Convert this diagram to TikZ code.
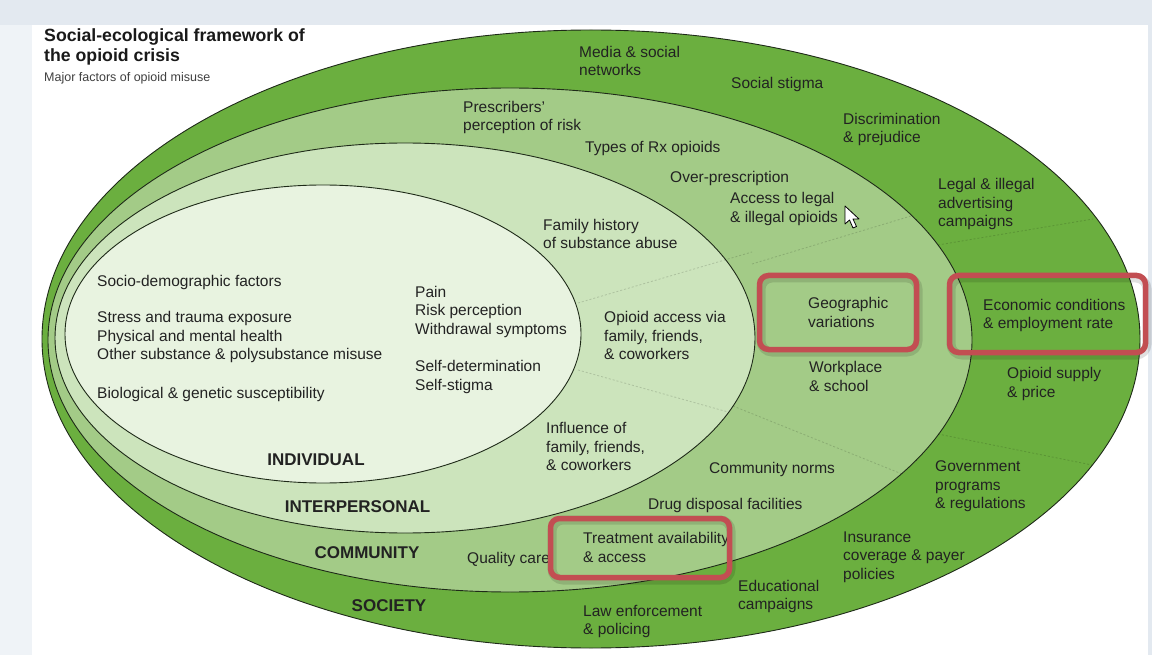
\documentclass[tikz,border=0pt]{standalone}
\usepackage{fontspec}
\setmainfont{Liberation Sans}
\definecolor{framebg}{HTML}{E3E9F0}
\definecolor{leftbg}{HTML}{EFF3F7}
\definecolor{society}{HTML}{6BAF3F}
\definecolor{community}{HTML}{A3CB87}
\definecolor{interp}{HTML}{CCE4BC}
\definecolor{indiv}{HTML}{E8F3E0}
\definecolor{ringline}{HTML}{1E2A18}
\definecolor{txt}{HTML}{222222}
\definecolor{hlred}{HTML}{C24E52}
\begin{document}
\begin{tikzpicture}[x=1pt,y=-1pt,
  lbl/.style={anchor=west, inner sep=0pt, align=left, text=txt,
    font=\fontsize{15.5}{18.5}\selectfont},
  level/.style={inner sep=0pt, text=txt, font=\bfseries\fontsize{17}{20}\selectfont},
  ring/.style={draw=ringline, line width=0.9pt},
  sector/.style={draw=black, opacity=0.15, dash pattern=on 2pt off 2pt, line width=0.8pt},
  hl/.style={draw=hlred, line width=5.5pt, rounded corners=9pt},
  hlshadow/.style={draw=black, opacity=0.12, line width=9pt, rounded corners=11pt}]

\useasboundingbox (0,0) rectangle (1152,655);

% page frame
\fill[framebg] (0,0) rectangle (1152,655);
\fill[leftbg] (0,25) rectangle (32,655);
\fill[white] (32,25) rectangle (1148,655);

% nested levels
\filldraw[ring, fill=society]   (591,339) ellipse [x radius=549pt, y radius=309pt];
\filldraw[ring, fill=community] (510,340) ellipse [x radius=462pt, y radius=252pt];
\filldraw[ring, fill=interp]    (405,338) ellipse [x radius=350pt, y radius=195pt];
\filldraw[ring, fill=indiv]     (323,334) ellipse [x radius=258pt, y radius=149pt];

% faint sector dividers
\draw[sector] (578,303) -- (752,252);
\draw[sector] (752,264) -- (911,216);
\draw[sector] (938,245) -- (1093,219);
\draw[sector] (578,370) -- (728,412);
\draw[sector] (733,406) -- (902,474);
\draw[sector] (938,434) -- (1092,465);

% title
\node[anchor=west, inner sep=0pt, align=left, text=black!90,
      font=\bfseries\fontsize{17.7}{20}\selectfont] (title) at (44,47)
      {Social-ecological framework of\\the opioid crisis};
\node[anchor=west, inner sep=0pt, text=black!75, font=\fontsize{12.5}{14}\selectfont]
      (subtitle) at (44,78) {Major factors of opioid misuse};

% society factors
\node[lbl] (media)   at (579,61)    {Media \& social\\networks};
\node[lbl] (stigma)  at (731,84)    {Social stigma};
\node[lbl] (discrim) at (843,129.5) {Discrimination\\\& prejudice};
\node[lbl] (advert)  at (938,204)   {Legal \& illegal\\advertising\\campaigns};
\node[lbl] (econ)    at (983,315.5) {Economic conditions\\\& employment rate};
\node[lbl] (supply)  at (1007,384)  {Opioid supply\\\& price};
\node[lbl] (govt)    at (935,486.5) {Government\\programs\\\& regulations};
\node[lbl] (insur)   at (843,557)   {Insurance\\coverage \& payer\\policies};
\node[lbl] (educ)    at (738,596.5) {Educational\\campaigns};
\node[lbl] (law)     at (583,621.5) {Law enforcement\\\& policing};

% community factors
\node[lbl] (prescr)  at (463,117.5) {Prescribers'\\perception of risk};
\node[lbl] (types)   at (585,148)   {Types of Rx opioids};
\node[lbl] (overpr)  at (670,178)   {Over-prescription};
\node[lbl] (access)  at (730,209)   {Access to legal\\\& illegal opioids};
\node[lbl] (geo)     at (808,312.5) {Geographic\\variations};
\node[lbl] (work)    at (809,376.5) {Workplace\\\& school};
\node[lbl] (norms)   at (709,469)   {Community norms};
\node[lbl] (disposal) at (648,505)  {Drug disposal facilities};
\node[lbl] (treat)   at (583,547.5) {Treatment availability\\\& access};
\node[lbl] (quality) at (467,559)   {Quality care};

% interpersonal factors
\node[lbl] (famhist) at (543,234)   {Family history\\of substance abuse};
\node[lbl] (oaccess) at (604,335.5) {Opioid access via\\family, friends,\\\& coworkers};
\node[lbl] (influ)   at (546,446.5) {Influence of\\family, friends,\\\& coworkers};

% individual factors
\node[lbl] (socio)   at (97,282)    {Socio-demographic factors};
\node[lbl] (stress)  at (97,337)    {Stress and trauma exposure\\Physical and mental health\\Other substance \& polysubstance misuse};
\node[lbl] (bio)     at (97,394)    {Biological \& genetic susceptibility};
\node[lbl] (pain)    at (415,311.5) {Pain\\Risk perception\\Withdrawal symptoms};
\node[lbl] (selfdet) at (415,377)   {Self-determination\\Self-stigma};

% level names
\node[level] (lindiv)  at (316,460)   {INDIVIDUAL};
\node[level] (linter)  at (357.5,507) {INTERPERSONAL};
\node[level] (lcomm)   at (367,553)   {COMMUNITY};
\node[level] (lsoc)    at (389,606)   {SOCIETY};

% highlight frames
\draw[hlshadow] (761,278) rectangle (918,352);
\draw[hlshadow] (951,278) rectangle (1147,355);
\draw[hlshadow] (552,520) rectangle (731,580);
\draw[hl] (759.5,275.5) rectangle (916.5,349.5);
\draw[hl] (949.5,275.5) rectangle (1145.5,352.5);
\draw[hl] (550.5,518.5) rectangle (729.5,577.5);

% pointer
\filldraw[fill=white, draw=black, line width=0.8pt, line join=round]
  (845,206) -- (845,224) -- (849.5,220) -- (853,228) -- (856.5,226.5) -- (853,219) -- (859,219) -- cycle;
\end{tikzpicture}
\end{document}
